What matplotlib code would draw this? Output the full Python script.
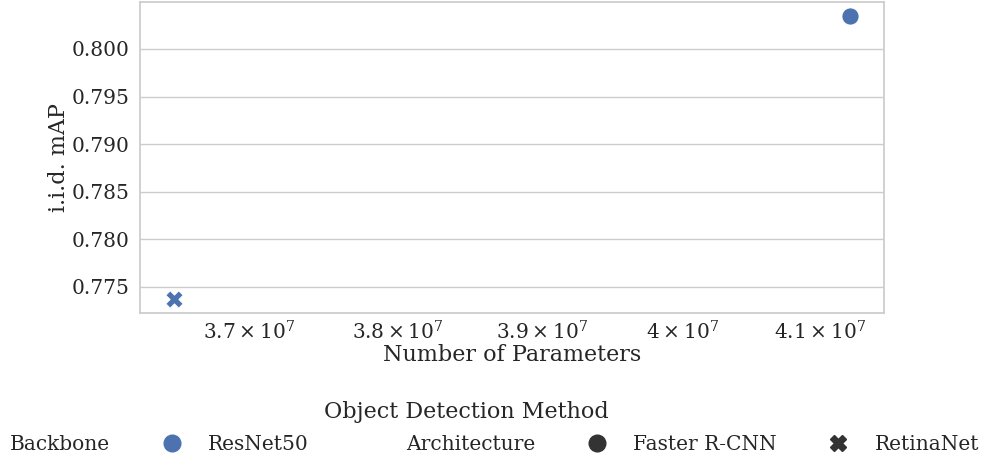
import matplotlib
matplotlib.use("Agg")
import matplotlib.pyplot as plt
from matplotlib.lines import Line2D
from matplotlib.offsetbox import VPacker
import seaborn as sns

# parameter count vs i.i.d. mAP for the two detectors
methods = ["Faster R-CNN", "RetinaNet"]
backbones = ["ResNet50", "ResNet50"]
n_params = [4.122e7, 3.650e7]
iid_map = [0.80345, 0.77374]

sns.set_theme(style="whitegrid")
plt.rcParams["font.family"] = "serif"
plt.rcParams["font.serif"] = ["DejaVu Serif"]

blue = sns.color_palette("deep")[0]
markers = {"Faster R-CNN": "o", "RetinaNet": "X"}

fig = plt.figure(figsize=(9.83, 4.59), dpi=100)
ax = fig.add_axes([140 / 983, 1 - 313 / 459, 744 / 983, 311 / 459])

for m, x, y in zip(methods, n_params, iid_map):
    ax.scatter(x, y, s=150, marker=markers[m], color=blue,
               edgecolor="white", linewidth=0.5, zorder=3)

ax.set_xscale("log")
ax.set_xlabel("Number of Parameters", fontsize=16, labelpad=0)
ax.set_ylabel("i.i.d. mAP", fontsize=16, labelpad=1)
ax.tick_params(axis="both", which="both", labelsize=14.5, pad=1.5)
ax.yaxis.set_major_formatter(matplotlib.ticker.FormatStrFormatter("%.3f"))

# legend: subtitles with no marker, then the real entries
handles = [
    Line2D([], [], linestyle="", marker=""),
    Line2D([], [], linestyle="", marker="o", markersize=12, color=blue),
    Line2D([], [], linestyle="", marker=""),
    Line2D([], [], linestyle="", marker="o", markersize=12, color=".2"),
    Line2D([], [], linestyle="", marker="X", markersize=12, color=".2"),
]
labels = ["Backbone", backbones[0], "Architecture", methods[0], methods[1]]
leg = fig.legend(handles, labels, ncol=5, frameon=False, fontsize=14.5,
                 loc="lower left", bbox_to_anchor=(-6 / 983, 5 / 459),
                 borderpad=0, borderaxespad=0, columnspacing=2.05)
# first column is a subtitle: drop its handle space
first_col = leg.findobj(VPacker)[0]
for item in first_col.get_children():
    item.get_children()[0].set_width(0)

fig.text(466 / 983, 1 - 412 / 459, "Object Detection Method",
         ha="center", va="center", fontsize=16)

fig.savefig("out.png", dpi=100)
